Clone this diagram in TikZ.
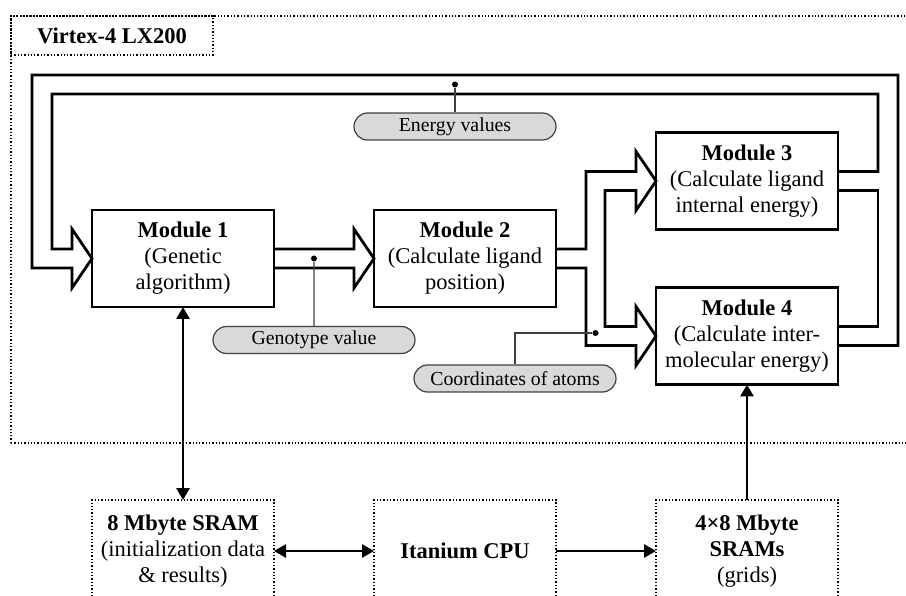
\documentclass[tikz,border=0pt]{standalone}
\usepackage{fontspec}
\setmainfont{Liberation Serif}
\usetikzlibrary{arrows.meta,positioning,calc,shapes.misc}

\begin{document}
\begin{tikzpicture}[
x=1pt, y=-1pt,
font=\fontsize{22.5}{26}\selectfont,
box/.style={draw, line width=2.8pt, minimum width=182pt, minimum height=97pt, align=center, inner sep=2pt, outer sep=0pt},
mem/.style={draw, line width=1.3pt, dash pattern=on 1.3pt off 2pt, minimum width=182pt, minimum height=102pt, align=center, inner sep=2pt, outer sep=0pt},
group/.style={draw, line width=1.3pt, dash pattern=on 1.3pt off 2pt, inner sep=0pt, outer sep=0pt},
pill/.style={rounded rectangle, draw=black!75, fill=black!15, line width=1.2pt, minimum width=202pt, minimum height=27pt, inner sep=0pt, font=\fontsize{19.8}{22}\selectfont},
joint/.style={circle, fill, inner sep=0pt, minimum size=6pt},
fat/.style={line width=2.8pt, line join=miter},
lead/.style={draw=black!75, line width=1.2pt},
arrow/.style={-{Triangle[length=12pt, width=13pt]}, line width=2.8pt},
twoway/.style={{Triangle[length=12pt, width=13pt]}-{Triangle[length=12pt, width=13pt]}, line width=2.8pt}
]
\useasboundingbox (0,0) rectangle (906,596);
\clip (0,0) rectangle (906,596);

% FPGA frame
\node[group, anchor=north west, minimum width=920pt, minimum height=427pt] (fpga) at (11,16) {};
\node[group, anchor=north west, minimum width=202pt, minimum height=39pt] (title) at (fpga.north west) {\textbf{Virtex-4 LX200}};

% modules
\node[box] (m1) at (183,258.5) {\textbf{Module 1}\\(Genetic\\algorithm)};
\node[box, right=100pt of m1] (m2) {\textbf{Module 2}\\(Calculate ligand\\position)};
\node[box] (m3) at (747,181) {\textbf{Module 3}\\(Calculate ligand\\internal energy)};
\node[box, below=58pt of m3] (m4) {\textbf{Module 4}\\(Calculate inter-\\molecular energy)};

% memories and host
\node[mem, below=193pt of m1] (sram) {\textbf{8 Mbyte SRAM}\\(initialization data\\\& results)};
\node[mem, right=100pt of sram] (cpu) {\textbf{Itanium CPU}};
\node[mem, right=100pt of cpu] (srams) {\textbf{4×8 Mbyte}\\\textbf{SRAMs}\\(grids)};

% wide data paths
\draw[fat] ($(m1.east)+(0,-9.5)$) -- (354,249) -- (354,229) -- (m2.west) -- (354,288) -- (354,268) -- ($(m1.east)+(0,9.5)$);
\draw[fat] ($(m2.east)+(0,-9.5)$) -- (586,249) -- (586,171.5) -- (636,171.5) -- (636,151.5) -- (m3.west) -- (636,210.5) -- (636,190.5) -- (605,190.5) -- (605,326.5) -- (636,326.5) -- (636,306.5) -- (m4.west) -- (636,365.5) -- (636,345.5) -- (586,345.5) -- (586,268) -- ($(m2.east)+(0,9.5)$);
\draw[fat] ($(m4.east)+(0,9.5)$) -- (898,345.5) -- (898,75) -- (32,75) -- (32,268) -- (72,268) -- (72,288) -- (m1.west) -- (72,229) -- (72,249) -- (52,249) -- (52,94) -- (878,94) -- (878,171.5) -- ($(m3.east)+(0,-9.5)$);
\draw[fat] ($(m3.east)+(0,9.5)$) -- (878,190.5) -- (878,326.5) -- ($(m4.east)+(0,-9.5)$);

% labels on the paths
\node[joint] (edot) at (455,84.5) {};
\node[joint] (gdot) at (314,258.5) {};
\node[joint] (cdot) at (595.5,333) {};
\node[pill] (energy) at (455,126.5) {Energy values};
\node[pill] (genotype) at (314,340) {Genotype value};
\node[pill] (coords) at (515,378.5) {Coordinates of atoms};
\draw[lead] (edot) -- (energy);
\draw[lead] (gdot) -- (genotype);
\draw[lead] (cdot) -| (coords);

% memory links
\draw[twoway] (m1) -- (sram);
\draw[twoway] (sram) -- (cpu);
\draw[arrow] (cpu) -- (srams);
\draw[arrow] (srams) -- (m4);
\end{tikzpicture}
\end{document}
